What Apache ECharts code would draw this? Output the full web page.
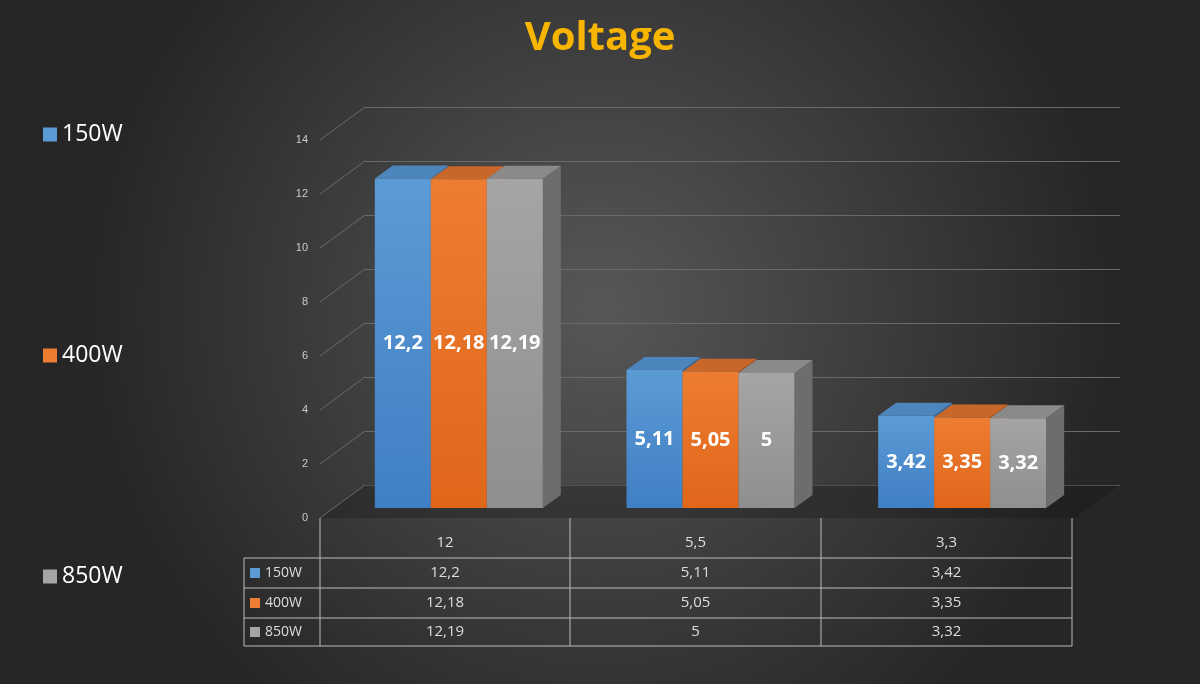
<!DOCTYPE html>
<html><head><meta charset="utf-8">
<script src="https://cdn.jsdelivr.net/npm/echarts@6/dist/echarts.min.js"></script>
<style>html,body{margin:0;padding:0;background:#333}#c{width:1200px;height:684px}</style>
</head><body><div id="c"></div>
<script>
const categories = ['12', '5,5', '3,3'];
const seriesNames = ['150W', '400W', '850W'];
const v150 = [12.2, 5.11, 3.42];
const v400 = [12.18, 5.05, 3.35];
const v850 = [12.19, 5, 3.32];
const labels150 = ['12,2', '5,11', '3,42'];
const labels400 = ['12,18', '5,05', '3,35'];
const labels850 = ['12,19', '5', '3,32'];
const yTicks = [0, 2, 4, 6, 8, 10, 12, 14];

const values = [v150, v400, v850];
const labelTexts = [labels150, labels400, labels850];
const front = ['#5b9bd5', '#ed7d31', '#a5a5a5'];
const frontDark = ['#3f7fc4', '#e0661a', '#8f8f8f'];
const topC = ['#4d85bd', '#c9672a', '#8a8a8a'];
const sideC = ['#3a6797', '#a95421', '#6d6d6d'];
const DX = -32, DY = 23, BW = 56, DEPTH_X = 18, DEPTH_Y = 13;

const chart = echarts.init(document.getElementById('c'));

function barSeries(si) {
  return {
    type: 'custom', name: seriesNames[si], xAxisIndex: 0, yAxisIndex: 0, z: 10,
    data: values[si].map((v, i) => [i, v]),
    renderItem(params, api) {
      const cat = api.value(0), val = api.value(1);
      const b = api.coord([cat, 0]), t = api.coord([cat, val]);
      const cx = b[0] + DX + (si - 1) * BW;
      const x1 = cx - BW / 2, x2 = cx + BW / 2;
      const yb = b[1] + DY, yt = t[1] + DY;
      return { type: 'group', children: [
        { type: 'polygon', shape: { points: [[x2, yb], [x2 + DEPTH_X, yb - DEPTH_Y], [x2 + DEPTH_X, yt - DEPTH_Y], [x2, yt]] }, style: { fill: sideC[si] } },
        { type: 'polygon', shape: { points: [[x1, yt], [x1 + DEPTH_X, yt - DEPTH_Y], [x2 + DEPTH_X, yt - DEPTH_Y], [x2, yt]] }, style: { fill: topC[si] } },
        { type: 'rect', shape: { x: x1, y: yt, width: BW, height: yb - yt },
          style: { fill: new echarts.graphic.LinearGradient(0, 0, 0, 1, [{ offset: 0, color: front[si] }, { offset: 1, color: frontDark[si] }]) } },
        { type: 'text', x: cx, y: (yt + yb) / 2, style: { text: labelTexts[si][params.dataIndex], fill: '#fff', font: 'bold 20px "Open Sans", sans-serif', align: 'center', verticalAlign: 'middle' } }
      ] };
    }
  };
}

const slantSeries = {
  type: 'custom', xAxisIndex: 0, yAxisIndex: 0, z: 2, silent: true,
  data: yTicks.map(v => [0, v]),
  renderItem(params, api) {
    const x = params.coordSys.x;
    const y = api.coord([0, api.value(1)])[1];
    return { type: 'line', shape: { x1: x - 45, y1: y + 33, x2: x, y2: y }, style: { stroke: '#6a6a6a', lineWidth: 1 } };
  }
};
const floorSeries = {
  type: 'custom', xAxisIndex: 0, yAxisIndex: 0, z: 1, silent: true,
  data: [[0, 0]],
  renderItem(params, api) {
    const l = params.coordSys.x, r = l + params.coordSys.width;
    const y = api.coord([0, 0])[1];
    return { type: 'polygon', shape: { points: [[l - 45, y + 33], [r - 45, y + 33], [r, y], [l, y]] }, style: { fill: 'rgba(20,20,20,0.3)' } };
  }
};

// table
const graphics = [];
const colX = [244, 320, 570, 821, 1072];
const rowY = [527, 558, 588, 618, 646];
const lineStyle = { stroke: '#bbb', lineWidth: 1 };
for (let c = 1; c < colX.length; c++) graphics.push({ type: 'line', shape: { x1: colX[c], y1: 518, x2: colX[c], y2: 646 }, style: lineStyle });
graphics.push({ type: 'line', shape: { x1: colX[0], y1: 558, x2: colX[0], y2: 646 }, style: lineStyle });
for (let r = 1; r < rowY.length; r++) graphics.push({ type: 'line', shape: { x1: colX[0], y1: rowY[r], x2: colX[4], y2: rowY[r] }, style: lineStyle });
categories.forEach((c, i) => graphics.push({ type: 'text', x: (colX[i + 1] + colX[i + 2]) / 2, y: 543, style: { text: c, fill: '#ddd', font: '15px "Open Sans", sans-serif', align: 'center', verticalAlign: 'middle' } }));
seriesNames.forEach((n, s) => {
  const yc = (rowY[s + 1] + rowY[s + 2]) / 2;
  graphics.push({ type: 'rect', shape: { x: 250, y: yc - 5, width: 10, height: 10 }, style: { fill: front[s] } });
  graphics.push({ type: 'text', x: 265, y: yc, style: { text: n, fill: '#ddd', font: '14px "Open Sans", sans-serif', verticalAlign: 'middle' } });
  labelTexts[s].forEach((t, i) => graphics.push({ type: 'text', x: (colX[i + 1] + colX[i + 2]) / 2, y: yc, style: { text: t, fill: '#ddd', font: '15px "Open Sans", sans-serif', align: 'center', verticalAlign: 'middle' } }));
});

chart.setOption({
  backgroundColor: new echarts.graphic.RadialGradient(0.5, 0.45, 0.75, [{ offset: 0, color: '#575757' }, { offset: 1, color: '#262626' }]),
  title: { text: 'Voltage', left: 'center', top: 14, textStyle: { color: '#f7b500', fontSize: 40, fontWeight: 'bold', fontFamily: 'Open Sans' } },
  legend: {
    orient: 'vertical', left: 38, top: 118, itemGap: 198, itemWidth: 14, itemHeight: 14,
    icon: 'rect', data: seriesNames.map((n, i) => ({ name: n, itemStyle: { color: front[i] } })),
    textStyle: { color: '#fff', fontSize: 23, fontFamily: 'Open Sans' }
  },
  grid: [
    { left: 365, right: 80, top: 107, bottom: 199 },
    { left: 320, width: 1, top: 140, bottom: 166 }
  ],
  xAxis: [
    { type: 'category', data: categories, gridIndex: 0, show: false },
    { type: 'value', gridIndex: 1, show: false }
  ],
  yAxis: [
    { type: 'value', gridIndex: 0, min: 0, max: 14, interval: 2, axisLabel: { show: false }, axisLine: { show: false }, axisTick: { show: false }, splitLine: { lineStyle: { color: '#6a6a6a' } } },
    { type: 'value', gridIndex: 1, min: 0, max: 14, interval: 2, axisLine: { show: false }, axisTick: { show: false }, splitLine: { show: false }, axisLabel: { color: '#ccc', fontSize: 11, margin: 12 } }
  ],
  series: [floorSeries, slantSeries, barSeries(0), barSeries(1), barSeries(2)],
  graphic: graphics
});
</script></body></html>
